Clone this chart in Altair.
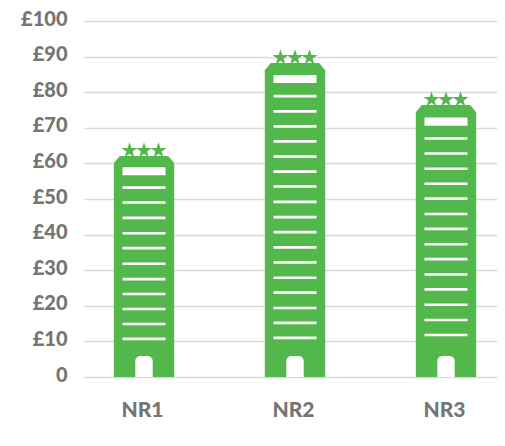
import altair as alt
import pandas as pd

categories = ["NR1", "NR2", "NR3"]
values = [62.1, 88.2, 76.4]
floors = [
    [53.2, 49.0, 44.7, 40.4, 36.2, 31.8, 27.5, 23.3, 19.1, 14.9, 10.7],
    [78.9, 74.6, 70.4, 66.2, 61.9, 57.7, 53.5, 49.2, 44.9, 40.7, 36.4, 32.2, 27.9, 23.7, 19.4, 15.2, 11.0],
    [67.0, 62.8, 58.5, 54.3, 50.1, 45.8, 41.6, 37.3, 33.1, 28.8, 24.6, 20.3, 16.0, 11.8],
]
top_windows = [(56.7, 58.9), (82.6, 84.8), (70.6, 72.9)]
door_height = 5.9
y_ticks = list(range(0, 101, 10))

GREEN = "#53B84C"
GREY = "#757575"
FONT = "Lato"
HALF = 0.2
CHAMFER_X = 0.04
CHAMFER_Y = 2.0
WIN = 0.1424
DOOR = 0.0576
STAR_DX = 0.096
STAR_DY = 1.5
X_DOMAIN = [0.6026, 3.3377]
STAR = "M0,-1L0.2245,-0.309L0.951,-0.309L0.363,0.118L0.588,0.809L0,0.382L-0.588,0.809L-0.363,0.118L-0.951,-0.309L-0.2245,-0.309Z"

outline, rules, windows, doors, stars = [], [], [], [], []
for i, (name, v) in enumerate(zip(categories, values)):
    c = i + 1
    for px, py in [(-HALF, v - CHAMFER_Y), (-HALF + CHAMFER_X, v), (HALF - CHAMFER_X, v), (HALF, v - CHAMFER_Y)]:
        outline.append({"cat": name, "x": c + px, "y": py, "y0": 0})
    for f in floors[i]:
        rules.append({"x": c - WIN, "x2": c + WIN, "y": f})
    lo, hi = top_windows[i]
    windows.append({"x": c - WIN, "x2": c + WIN, "y": lo, "y2": hi})
    doors.append({"x": c - DOOR, "x2": c + DOOR, "y": 0, "y2": door_height})
    for d in (-STAR_DX, 0, STAR_DX):
        stars.append({"x": c + d, "y": v + STAR_DY})

xs = alt.Scale(domain=X_DOMAIN, nice=False, zero=False)
ys = alt.Scale(domain=[0, 100], nice=False, zero=True)

x_axis = alt.Axis(
    values=[1, 2, 3],
    labelExpr="['NR1','NR2','NR3'][datum.value-1]",
    title=None, grid=False, domain=False, ticks=False,
    labelFont=FONT, labelFontSize=21, labelFontWeight=900, labelColor=GREY,
    labelPadding=22, labelAngle=0, labelOffset=-2,
)
y_axis = alt.Axis(
    values=y_ticks,
    labelExpr="datum.value == 0 ? '0' : '£' + datum.value",
    title=None, grid=True, gridColor="#D9D9D9", gridWidth=1.6,
    domain=False, ticks=False,
    labelFont=FONT, labelFontSize=20, labelFontWeight=900, labelColor=GREY,
    labelPadding=17, labelOffset=-2,
)

X = alt.X("x:Q", scale=xs, axis=x_axis)
Y = alt.Y("y:Q", scale=ys, axis=y_axis)

body = alt.Chart(pd.DataFrame(outline)).mark_area(color=GREEN, opacity=1, interpolate="linear").encode(
    x=X, y=Y, y2="y0:Q", detail="cat:N"
)
star_layer = alt.Chart(pd.DataFrame(stars)).mark_point(
    shape=STAR, filled=True, color=GREEN, opacity=1, size=280
).encode(x=X, y=Y)
floor_layer = alt.Chart(pd.DataFrame(rules)).mark_rule(color="white", strokeWidth=2.6).encode(
    x=X, x2="x2:Q", y=Y
)
win_layer = alt.Chart(pd.DataFrame(windows)).mark_rect(color="white").encode(
    x=X, x2="x2:Q", y=Y, y2="y2:Q"
)
door_layer = alt.Chart(pd.DataFrame(doors)).mark_bar(
    color="white", cornerRadiusTopLeft=5, cornerRadiusTopRight=5
).encode(x=X, x2="x2:Q", y=Y, y2="y2:Q")

chart = alt.layer(body, star_layer, floor_layer, win_layer, door_layer).properties(
    width=413, height=356,
    autosize=alt.AutoSizeParams(type="none"),
    padding={"left": 76, "top": 13, "right": 0, "bottom": 45},
).configure_view(stroke=None)

chart.save("out.html", embed_options={"renderer": "svg", "actions": False})
